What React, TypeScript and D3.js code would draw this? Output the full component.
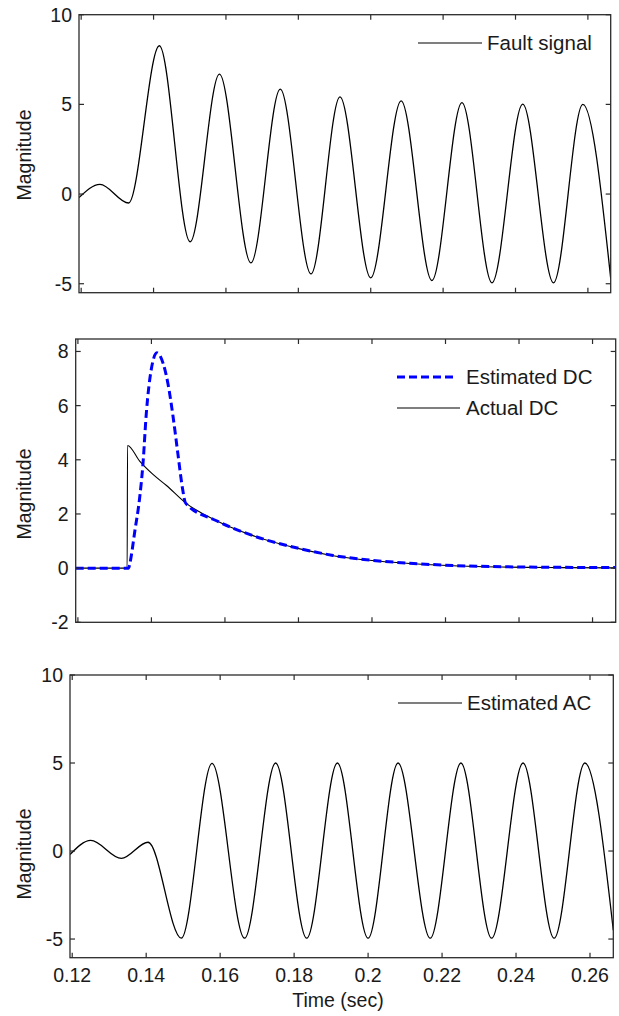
import React from 'react';
import * as d3 from 'd3';

// ---------- data ----------
const xDomain = [0.1194, 0.2663];
const xTicks = [0.12, 0.14, 0.16, 0.18, 0.2, 0.22, 0.24, 0.26];
const xTickLabels = ['0.12', '0.14', '0.16', '0.18', '0.2', '0.22', '0.24', '0.26'];

const faultYTicks = [-5, 0, 5, 10];
const dcYTicks = [-2, 0, 2, 4, 6, 8];
const acYTicks = [-5, 0, 5, 10];

const faultT = [0.1194, 0.1252, 0.1331, 0.1416, 0.1501, 0.1582, 0.1669, 0.175, 0.1835, 0.1915, 0.2, 0.2084, 0.2169, 0.2252, 0.2335, 0.242, 0.2505, 0.2586, 0.2663];
const faultV = [-0.2, 0.54, -0.5, 8.27, -2.66, 6.69, -3.84, 5.85, -4.45, 5.42, -4.67, 5.2, -4.82, 5.1, -4.95, 5.01, -4.95, 5.0, -4.7];

// Actual DC (panel 2)
const actualDcT = [0.1194, 0.1334, 0.1335, 0.1368, 0.1405, 0.1441, 0.1491, 0.1577, 0.1676, 0.1804, 0.1894, 0.1985, 0.2103, 0.2284, 0.2511, 0.2663];
const actualDcV = [0, 0, 4.53, 3.95, 3.45, 3.05, 2.43, 1.75, 1.2, 0.71, 0.46, 0.3, 0.17, 0.06, 0.02, 0.01];

// Estimated DC (panel 2)
const estDcT = [0.1194, 0.1338, 0.1341, 0.1355, 0.1368, 0.1377, 0.1386, 0.14, 0.1415, 0.1432, 0.1445, 0.1459, 0.1472, 0.1484, 0.1493, 0.1577, 0.1676, 0.1804, 0.1894, 0.1985, 0.2103, 0.2284, 0.2511, 0.2663];
const estDcV = [0, 0, 0.15, 1.38, 2.6, 3.85, 5.7, 7.37, 7.95, 7.55, 6.81, 5.58, 4.22, 2.99, 2.4, 1.75, 1.2, 0.72, 0.47, 0.31, 0.18, 0.07, 0.03, 0.02];

// Estimated AC (panel 3)
const acT = [0.1194, 0.125, 0.1333, 0.1405, 0.1495, 0.1578, 0.1666, 0.175, 0.1834, 0.1917, 0.2, 0.2081, 0.2168, 0.2251, 0.2334, 0.2419, 0.2503, 0.2586, 0.2663];
const acV = [-0.2, 0.6, -0.42, 0.5, -4.95, 4.98, -4.95, 5.0, -4.95, 5.0, -4.95, 5.0, -4.95, 5.0, -4.95, 5.0, -4.95, 5.0, -4.5];

// ---------- drawing ----------
const FONT = '"Liberation Sans", Arial, sans-serif';
const AX = '#2b2b2b';
const TXT = '#1a1a1a';

type Series = { t: number[]; v: number[]; color: string; width: number; dash?: string; curve: any };
type LegendItem = { label: string; color: string; width: number; dash?: string; x1: number; x2: number; y: number };

function Panel(props: {
  id: string;
  l: number; r: number; t: number; b: number;
  yDomain: [number, number];
  yTicks: number[];
  showXLabels: boolean;
  series: Series[];
  legend: LegendItem[];
  legendTextX: number;
  yLabelY: number;
}) {
  const { id, l, r, t, b, yDomain, yTicks, showXLabels, series, legend, legendTextX, yLabelY } = props;
  const x = d3.scaleLinear().domain(xDomain).range([l, r]);
  const y = d3.scaleLinear().domain(yDomain).range([b, t]);
  const tl = 5;
  return (
    <g>
      <defs>
        <clipPath id={id}>
          <rect x={l} y={t} width={r - l} height={b - t} />
        </clipPath>
      </defs>
      <g clipPath={`url(#${id})`}>
        {series.map((s, i) => {
          const pts = s.t.map((tt, k) => [tt, s.v[k]] as [number, number]);
          const line = d3.line<[number, number]>().x(d => x(d[0])).y(d => y(d[1])).curve(s.curve);
          return (
            <path key={i} d={line(pts) || ''} fill="none" stroke={s.color} strokeWidth={s.width}
              strokeDasharray={s.dash} strokeLinejoin="round" />
          );
        })}
      </g>
      {/* ticks */}
      {xTicks.map((v, i) => (
        <g key={'xt' + i}>
          <line x1={x(v)} x2={x(v)} y1={b} y2={b - tl} stroke={AX} strokeWidth={1.2} />
          <line x1={x(v)} x2={x(v)} y1={t} y2={t + tl} stroke={AX} strokeWidth={1.2} />
          {showXLabels && (
            <text x={x(v)} y={b + 24} textAnchor="middle" fontFamily={FONT} fontSize={19.5} fill={TXT}>
              {xTickLabels[i]}
            </text>
          )}
        </g>
      ))}
      {yTicks.map((v, i) => (
        <g key={'yt' + i}>
          <line x1={l} x2={l + tl} y1={y(v)} y2={y(v)} stroke={AX} strokeWidth={1.2} />
          <line x1={r} x2={r - tl} y1={y(v)} y2={y(v)} stroke={AX} strokeWidth={1.2} />
          <text x={l - 7} y={y(v) + 7} textAnchor="end" fontFamily={FONT} fontSize={19.5} fill={TXT}>
            {String(v)}
          </text>
        </g>
      ))}
      <rect x={l} y={t} width={r - l} height={b - t} fill="none" stroke={AX} strokeWidth={1.3} />
      {/* y label */}
      <text transform={`translate(31,${yLabelY}) rotate(-90)`} textAnchor="middle"
        fontFamily={FONT} fontSize={19.5} fill={TXT}>Magnitude</text>
      {/* legend */}
      {legend.map((it, i) => (
        <g key={'lg' + i}>
          <line x1={it.x1} x2={it.x2} y1={it.y} y2={it.y} stroke={it.color} strokeWidth={it.width} strokeDasharray={it.dash} />
          <text x={legendTextX} y={it.y + 7} fontFamily={FONT} fontSize={20.5} fill={TXT}>{it.label}</text>
        </g>
      ))}
    </g>
  );
}

export default function App() {
  return (
    <svg width={619} height={1016} style={{ position: 'absolute', left: 0, top: 0, background: '#fff' }}>
      <rect x={0} y={0} width={619} height={1016} fill="#fff" />
      <Panel id="c1" l={79} r={610.7} t={14.7} b={292.7} yDomain={[-5.5, 10]} yTicks={faultYTicks}
        showXLabels={false} yLabelY={155}
        series={[{ t: faultT, v: faultV, color: '#000', width: 1.3, curve: d3.curveMonotoneX }]}
        legend={[{ label: 'Fault signal', color: '#000', width: 1.2, x1: 418, x2: 482, y: 43 }]}
        legendTextX={487} />
      <Panel id="c2" l={75.7} r={615.7} t={339} b={622.3} yDomain={[-2, 8.46]} yTicks={dcYTicks}
        showXLabels={false} yLabelY={494}
        series={[
          { t: actualDcT, v: actualDcV, color: '#000', width: 1.1, curve: d3.curveMonotoneX },
          { t: estDcT, v: estDcV, color: '#0000ff', width: 3, dash: '8,4', curve: d3.curveMonotoneX },
        ]}
        legend={[
          { label: 'Estimated DC', color: '#0000ff', width: 3, dash: '8,4', x1: 397, x2: 456, y: 377 },
          { label: 'Actual DC', color: '#000', width: 1.1, x1: 397, x2: 460, y: 408 },
        ]}
        legendTextX={466} />
      <Panel id="c3" l={70} r={613.3} t={675} b={957.7} yDomain={[-6.06, 10]} yTicks={acYTicks}
        showXLabels={true} yLabelY={854}
        series={[{ t: acT, v: acV, color: '#000', width: 1.3, curve: d3.curveMonotoneX }]}
        legend={[{ label: 'Estimated AC', color: '#000', width: 1.2, x1: 398, x2: 462, y: 703 }]}
        legendTextX={467} />
      <text x={338} y={1007} textAnchor="middle" fontFamily={FONT} fontSize={19.5} fill={TXT}>Time (sec)</text>
    </svg>
  );
}
